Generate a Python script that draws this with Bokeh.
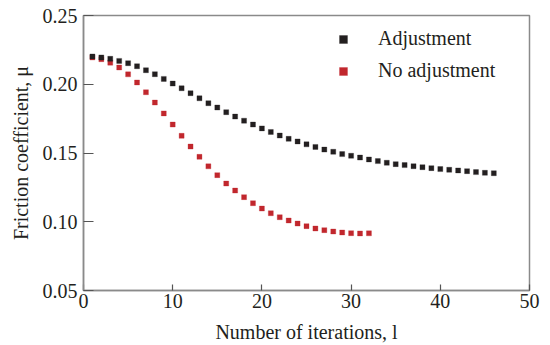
from bokeh.plotting import figure
from bokeh.models import Range1d, FixedTicker, PrintfTickFormatter, Legend, LegendItem
from bokeh.embed import file_html
from bokeh.resources import INLINE

# ---- data ----
adj_x = list(range(1, 47))
adj_mu = [0.2202, 0.2195, 0.2185, 0.2170, 0.2153, 0.2131, 0.2102, 0.2073, 0.2039, 0.2005,
          0.1971, 0.1935, 0.1898, 0.1862, 0.1831, 0.1797, 0.1765, 0.1735, 0.1707, 0.1679,
          0.1653, 0.1627, 0.1603, 0.1584, 0.1563, 0.1544, 0.1525, 0.1509, 0.1492, 0.1480,
          0.1467, 0.1453, 0.1441, 0.1429, 0.1419, 0.1412, 0.1404, 0.1397, 0.1390, 0.1383,
          0.1378, 0.1373, 0.1368, 0.1361, 0.1356, 0.1353]
noadj_x = list(range(1, 33))
noadj_mu = [0.2195, 0.2182, 0.2157, 0.2122, 0.2072, 0.2013, 0.1942, 0.1867, 0.1788, 0.1707,
            0.1625, 0.1547, 0.1472, 0.1403, 0.1339, 0.1278, 0.1227, 0.1179, 0.1135, 0.1096,
            0.1062, 0.1033, 0.1009, 0.0987, 0.0968, 0.0951, 0.0939, 0.0929, 0.0922, 0.0917,
            0.0915, 0.0916]
x_ticks = [0, 10, 20, 30, 40, 50]
y_ticks = [0.05, 0.10, 0.15, 0.20, 0.25]
series_names = ["Adjustment", "No adjustment"]
x_title = "Number of iterations, l"
y_title = "Friction coefficient, \u03bc"

FONT = "Liberation Serif"
BLACK = "#231f20"
RED = "#c1272d"
AXIS_GREY = "#8a8a8a"

p = figure(width=550, height=345, output_backend="svg", toolbar_location=None,
           x_range=Range1d(0, 50), y_range=Range1d(0.05, 0.25),
           min_border_left=83, min_border_right=21, min_border_top=15, min_border_bottom=55)
p.xgrid.visible = False
p.ygrid.visible = False
p.background_fill_color = "white"
p.border_fill_color = "white"
p.outline_line_color = AXIS_GREY
p.outline_line_width = 1.5

for ax, ticks, tick_in in ((p.xaxis[0], x_ticks, 6), (p.yaxis[0], y_ticks, 10)):
    ax.ticker = FixedTicker(ticks=ticks)
    ax.minor_tick_line_color = None
    ax.major_tick_in = tick_in
    ax.major_tick_out = 0
    ax.major_tick_line_color = "#555555"
    ax.major_tick_line_width = 1.2
    ax.axis_line_color = AXIS_GREY
    ax.axis_line_width = 1.5
    ax.major_label_text_font = FONT
    ax.major_label_text_font_size = "20px"
    ax.major_label_text_color = "#231f20"
    ax.axis_label_text_font = FONT
    ax.axis_label_text_font_size = "20px"
    ax.axis_label_text_font_style = "normal"
    ax.axis_label_text_color = "#231f20"

p.xaxis[0].major_label_standoff = 3
p.xaxis[0].axis_label = x_title
p.xaxis[0].axis_label_standoff = 10
p.yaxis[0].major_label_standoff = 6
p.yaxis[0].axis_label = y_title
p.yaxis[0].axis_label_standoff = 8
p.yaxis[0].formatter = PrintfTickFormatter(format="%.2f")

r_no = p.scatter(noadj_x, noadj_mu, marker="square", size=5, fill_color=RED, line_color=RED,
                 line_width=0.3)
r_adj = p.scatter(adj_x, adj_mu, marker="square", size=5, fill_color=BLACK, line_color=BLACK,
                  line_width=0.3)

legend = Legend(items=[LegendItem(label=series_names[0], renderers=[r_adj]),
                       LegendItem(label=series_names[1], renderers=[r_no])],
                location=(250, 208), border_line_color=None, background_fill_alpha=0,
                label_text_font=FONT, label_text_font_size="20px", label_text_color="#231f20",
                glyph_width=20, glyph_height=20, label_height=20, label_standoff=25,
                spacing=9, padding=0, margin=0)
p.add_layout(legend)

open("out.html", "w").write(file_html(p, INLINE))
